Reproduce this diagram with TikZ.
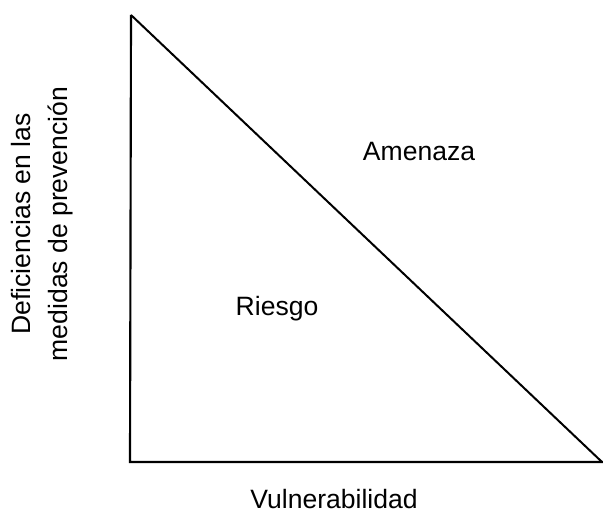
\documentclass[tikz,border=0pt]{standalone}
\usepackage{fontspec}
\setmainfont{Liberation Sans}
\tikzset{lbl/.style={inner sep=0pt, font=\fontsize{19.9}{27.75}\selectfont}}
\begin{document}
\begin{tikzpicture}[x=0.75pt,y=0.75pt,yscale=-1,xscale=1]
\useasboundingbox (0,0) rectangle (603,517);
\coordinate (top) at (131,15);
\coordinate (corner) at (130,462);
\coordinate (right) at (603,462);
\coordinate (tip) at (602,462);
\draw [line width=1.6] (top) -- (corner) -- (right) ;
\draw [line width=1.5] (top) -- (tip) ;
\draw (419,160) node [lbl, anchor=base] (amenaza) {Amenaza};
\draw (277,315) node [lbl, anchor=base] (riesgo) {Riesgo};
\draw (334,508) node [lbl, anchor=base] (vuln) {Vulnerabilidad};
\draw (42,224) node [lbl, rotate=90, align=center] (defic) {Deficiencias en las\\medidas de prevención};
\end{tikzpicture}
\end{document}
